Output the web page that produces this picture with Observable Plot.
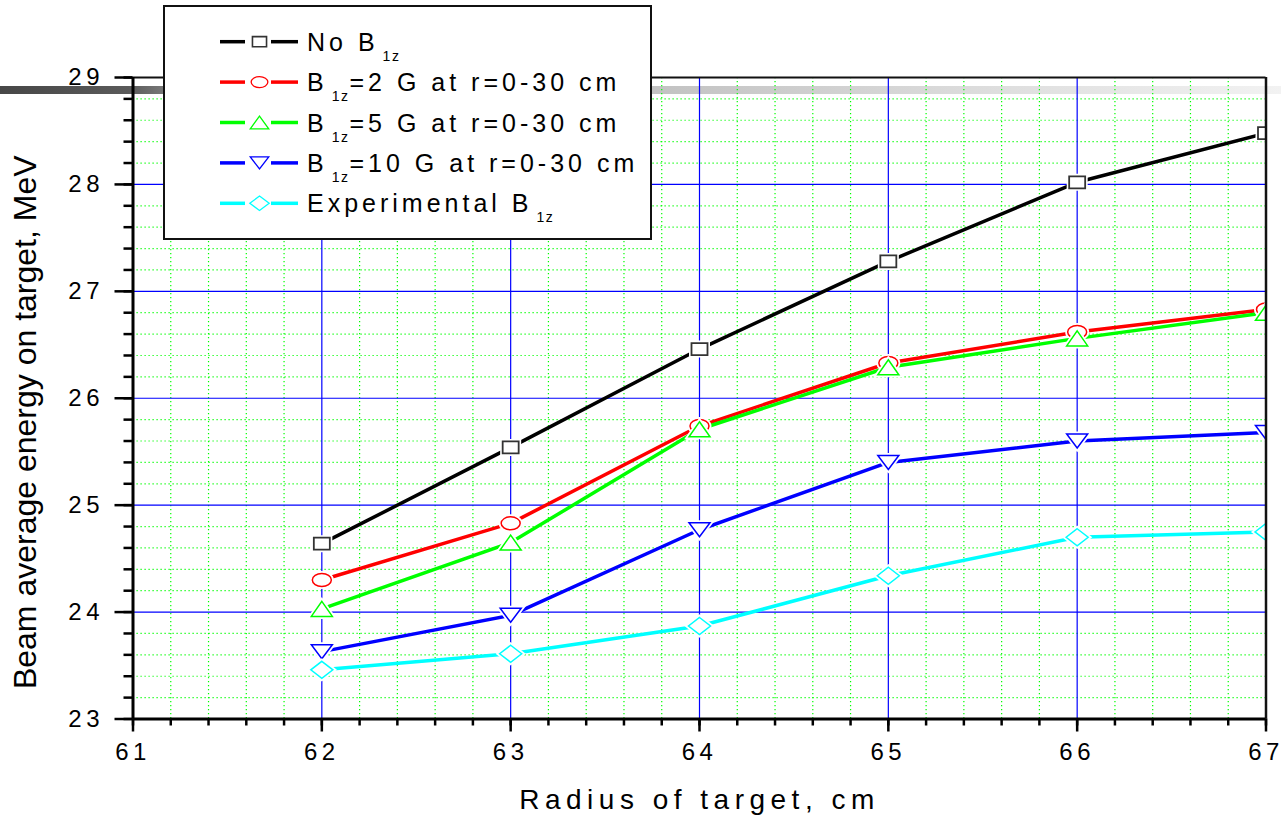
<!DOCTYPE html>
<html>
<head>
<meta charset="utf-8">
<script src="https://cdn.jsdelivr.net/npm/d3@7"></script>
<script src="https://cdn.jsdelivr.net/npm/@observablehq/plot@0.6"></script>
<style>
  html, body { margin: 0; padding: 0; background: #fff; }
  #wrap { position: relative; width: 1281px; height: 818px; overflow: hidden; font-family: "Liberation Sans", Arial, sans-serif; }
  #bar { position: absolute; left: 0; top: 86px; width: 1281px; height: 8px; z-index: 0;
    background: linear-gradient(to right, #474747 0%, #5a5a5a 10%, #7a7a7a 13%, #c2c2c2 51%, #dedede 78%, #f2f2f2 100%); }
  #chart { position: absolute; left: 0; top: 0; z-index: 1; }
  #legend { position: absolute; left: 163px; top: 5px; z-index: 2; }
  g[aria-label="x-axis tick label"] text, g[aria-label="y-axis tick label"] text { letter-spacing: 4.5px; }
</style>
</head>
<body>
<div id="wrap">
  <div id="bar"></div>
  <div id="chart"></div>
  <svg id="legend" width="489" height="236"></svg>
</div>
<script>
// ---- data ----
const radius = [62, 63, 64, 65, 66, 67];
const noB1z   = [24.64, 25.54, 26.46, 27.28, 28.02, 28.48];
const b1z2G   = [24.30, 24.83, 25.74, 26.33, 26.62, 26.83];
const b1z5G   = [24.03, 24.65, 25.71, 26.29, 26.56, 26.80];
const b1z10G  = [23.63, 23.97, 24.77, 25.40, 25.60, 25.68];
const expB1z  = [23.46, 23.61, 23.87, 24.34, 24.70, 24.75];
const seriesNames = ["No B1z", "B1z=2 G at r=0-30 cm", "B1z=5 G at r=0-30 cm", "B1z=10 G at r=0-30 cm", "Experimental B1z"];
const legendParts = [
  ["No B", "1z", ""],
  ["B", "1z", "=2 G at r=0-30 cm"],
  ["B", "1z", "=5 G at r=0-30 cm"],
  ["B", "1z", "=10 G at r=0-30 cm"],
  ["Experimental B", "1z", ""]
];
const xTicks = [61, 62, 63, 64, 65, 66, 67];
const yTicks = [23, 24, 25, 26, 27, 28, 29];
const xTitle = "Radius of target, cm";
const yTitle = "Beam average energy on target, MeV";

// ---- styles ----
const lineColors   = ["#000000", "#ff0000", "#00ff00", "#0000ff", "#00ffff"];
const markerColors = ["#333333", "#ff0000", "#00ff00", "#0000ff", "#00ffff"];

function shape(kind, hw, hh) {
  return {
    draw(ctx) {
      if (kind === "square") {
        ctx.moveTo(-hw, -hh); ctx.lineTo(hw, -hh); ctx.lineTo(hw, hh); ctx.lineTo(-hw, hh); ctx.closePath();
      } else if (kind === "circle") {
        const k = 0.5523;
        ctx.moveTo(hw, 0);
        ctx.bezierCurveTo(hw, hh * k, hw * k, hh, 0, hh);
        ctx.bezierCurveTo(-hw * k, hh, -hw, hh * k, -hw, 0);
        ctx.bezierCurveTo(-hw, -hh * k, -hw * k, -hh, 0, -hh);
        ctx.bezierCurveTo(hw * k, -hh, hw, -hh * k, hw, 0);
        ctx.closePath();
      } else if (kind === "up") {
        ctx.moveTo(0, -hh); ctx.lineTo(hw, hh); ctx.lineTo(-hw, hh); ctx.closePath();
      } else if (kind === "down") {
        ctx.moveTo(-hw, -hh); ctx.lineTo(hw, -hh); ctx.lineTo(0, hh); ctx.closePath();
      } else if (kind === "diamond") {
        ctx.moveTo(0, -hh); ctx.lineTo(hw, 0); ctx.lineTo(0, hh); ctx.lineTo(-hw, 0); ctx.closePath();
      }
    }
  };
}
const shapeDefs = [["square", 8, 6], ["circle", 9.5, 6.5], ["up", 10.5, 7.5], ["down", 10.5, 7], ["diamond", 11, 8.5]];
const plotSymbols = shapeDefs.map(([k, w, h]) => shape(k, w, h));
const legendSymbols = shapeDefs.map(([k, w, h]) => shape(k, w * 0.88, h * 0.85));

const seriesValues = [noB1z, b1z2G, b1z5G, b1z10G, expB1z];
const seriesRows = seriesValues.map((vals, s) => radius.map((r, i) => ({series: seriesNames[s], x: r, y: vals[i]})));

const isMajor = v => Math.abs(v - Math.round(v)) < 1e-6;
const xMinor = d3.range(61, 67.0001, 0.2).map(v => +v.toFixed(1));
const yMinor = d3.range(23, 29.0001, 0.2).map(v => +v.toFixed(1));
const xMinorGrid = xMinor.filter(v => !isMajor(v));
const yMinorGrid = yMinor.filter(v => !isMajor(v));
const xMajorGrid = xTicks.slice(1, -1);
const yMajorGrid = yTicks.slice(1, -1);

const marks = [
  Plot.ruleX(xMinorGrid, {stroke: "#00ff00", strokeWidth: 1.2, strokeDasharray: "1.2,2.8"}),
  Plot.ruleY(yMinorGrid, {stroke: "#00ff00", strokeWidth: 1.2, strokeDasharray: "1.2,2.8"}),
  Plot.ruleX(xMajorGrid, {stroke: "#0000ff", strokeWidth: 1.2}),
  Plot.ruleY(yMajorGrid, {stroke: "#0000ff", strokeWidth: 1.2}),
];
seriesRows.forEach((rows, s) => {
  marks.push(Plot.line(rows, {x: "x", y: "y", stroke: lineColors[s], strokeWidth: 3.5, clip: true}));
});
seriesRows.forEach((rows, s) => {
  marks.push(Plot.dot(rows, {x: "x", y: "y", symbol: plotSymbols[s], fill: "white", stroke: "white", strokeWidth: 5, clip: true}));
  marks.push(Plot.dot(rows, {x: "x", y: "y", symbol: plotSymbols[s], fill: "white", stroke: markerColors[s], strokeWidth: s === 0 ? 1.8 : 1.5, clip: true}));
});
marks.push(
  Plot.ruleX([67], {stroke: "#111", strokeWidth: 2.5}),
  Plot.ruleY([29], {stroke: "#111", strokeWidth: 2}),
  Plot.ruleX([61], {stroke: "#000", strokeWidth: 3}),
  Plot.ruleY([23], {stroke: "#000", strokeWidth: 3}),
  Plot.axisY(yMinor, {tickSize: 9, strokeWidth: 2.5, text: null, label: null}),
  Plot.axisY(yTicks, {tickSize: 18, tickPadding: 11, strokeWidth: 2.5, fontSize: 24, tickFormat: d => String(d), label: null}),
  Plot.axisX(xMinor, {tickSize: 7, strokeWidth: 2.5, text: null, label: null}),
  Plot.axisX(xTicks, {tickSize: 13, tickPadding: 11, strokeWidth: 2.5, fontSize: 24, tickFormat: d => String(d), label: null}),
  Plot.text([xTitle], {text: d => d, frameAnchor: "bottom", lineAnchor: "top", dy: 70, fontSize: 28, fill: "#000"}),
  Plot.text([yTitle], {text: d => d, frameAnchor: "left", rotate: -90, textAnchor: "middle", lineAnchor: "middle", dx: -107, dy: 24, fontSize: 32, fill: "#000"})
);

const chart = Plot.plot({
  width: 1281,
  height: 818,
  marginLeft: 132.5,
  marginRight: 15.5,
  marginTop: 77,
  marginBottom: 99.5,
  x: {domain: [61, 67], axis: null, label: null},
  y: {domain: [23, 29], axis: null, label: null},
  style: {background: "transparent", fontFamily: "Liberation Sans, Arial, sans-serif", color: "#000", overflow: "visible"},
  marks
});
document.getElementById("chart").appendChild(chart);
d3.select(chart).selectAll("text").filter(function () { return this.textContent === xTitle; })
  .attr("letter-spacing", "5.5px");

// ---- legend ----
const leg = d3.select("#legend");
leg.append("rect").attr("x", 1).attr("y", 1).attr("width", 487).attr("height", 233)
  .attr("fill", "#fff").attr("stroke", "#111").attr("stroke-width", 2);
legendParts.forEach((parts, i) => {
  const base = 45.7 + 40.4 * i;
  const cy = base - 9;
  const g = leg.append("g");
  g.append("line").attr("x1", 57).attr("x2", 82).attr("y1", cy).attr("y2", cy)
    .attr("stroke", lineColors[i]).attr("stroke-width", 3.5);
  g.append("line").attr("x1", 108).attr("x2", 135).attr("y1", cy).attr("y2", cy)
    .attr("stroke", lineColors[i]).attr("stroke-width", 3.5);
  const p = d3.path();
  legendSymbols[i].draw(p);
  g.append("path").attr("d", p.toString()).attr("transform", `translate(96.5,${cy})`)
    .attr("fill", "#fff").attr("stroke", markerColors[i]).attr("stroke-width", i === 0 ? 1.6 : 1.3);
  const t = g.append("text").attr("x", 144).attr("y", base)
    .attr("font-family", "Liberation Sans, Arial, sans-serif").attr("font-size", 25).attr("fill", "#000");
  t.append("tspan").attr("letter-spacing", "4px").text(parts[0]);
  t.append("tspan").attr("font-size", 14).attr("dx", 4).attr("dy", 10).attr("letter-spacing", "1.5px").text(parts[1]);
  if (parts[2]) t.append("tspan").attr("dy", -10).attr("letter-spacing", "4px").text(parts[2]);
});
</script>
</body>
</html>
